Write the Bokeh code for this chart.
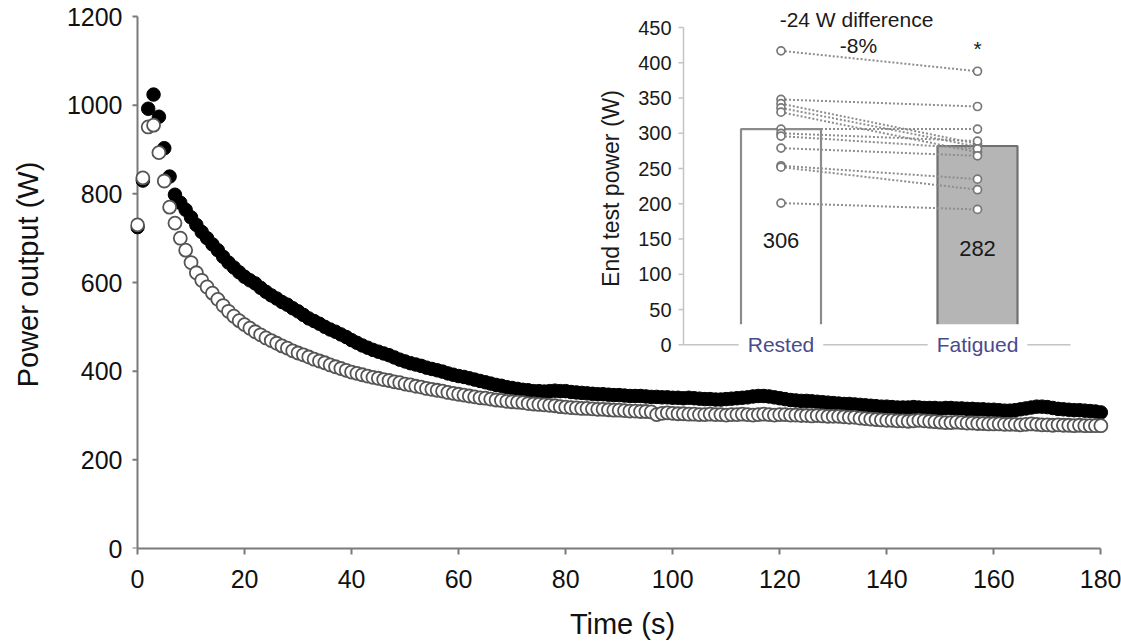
import math
from bokeh.plotting import figure
from bokeh.models import Range1d, FixedTicker, ColumnDataSource
from bokeh.core.properties import value
from bokeh.embed import file_html
from bokeh.resources import INLINE

# ---------------- data ----------------
times = list(range(181))

rested_power = [
    725, 830, 992, 1024, 974, 903, 839, 798, 780, 764,
    747, 730, 714, 700, 686, 673, 658, 645, 634, 623,
    613, 605, 598, 588, 579, 571, 564, 556, 550, 542,
    535, 527, 519, 513, 507, 500, 494, 489, 483, 477,
    470, 464, 458, 453, 448, 444, 440, 436, 431, 426,
    422, 418, 415, 412, 408, 405, 402, 399, 395, 392,
    389, 387, 384, 381, 378, 375, 372, 369, 367, 364,
    362, 360, 358, 357, 355, 355, 354, 355, 356, 355,
    355, 353, 352, 351, 350, 349, 348, 348, 347, 346,
    346, 345, 344, 344, 344, 343, 342, 342, 341, 341,
    340, 340, 339, 340, 339, 338, 337, 337, 336, 336,
    337, 338, 339, 340, 341, 343, 344, 344, 343, 341,
    339, 337, 335, 334, 333, 333, 332, 331, 330, 329,
    328, 327, 326, 326, 325, 324, 323, 322, 321, 320,
    320, 319, 318, 318, 318, 319, 318, 317, 317, 317,
    316, 317, 317, 316, 316, 315, 315, 314, 314, 313,
    313, 312, 311, 311, 312, 314, 316, 318, 320, 320,
    319, 317, 315, 314, 313, 312, 312, 311, 310, 309,
    307,
]

fatigued_power = [
    730, 836, 951, 955, 893, 829, 770, 734, 700, 673,
    645, 622, 605, 590, 576, 562, 548, 535, 524, 514,
    505, 497, 489, 482, 475, 469, 463, 457, 452, 446,
    441, 437, 432, 427, 423, 419, 414, 410, 406, 402,
    398, 395, 392, 389, 386, 384, 381, 379, 376, 374,
    371, 369, 366, 364, 361, 359, 357, 355, 352, 350,
    348, 346, 344, 342, 340, 339, 337, 335, 334, 332,
    331, 330, 329, 327, 326, 325, 324, 323, 322, 320,
    319, 318, 317, 316, 316, 315, 314, 314, 313, 312,
    312, 311, 310, 310, 309, 309, 308, 302, 305, 306,
    305, 304, 304, 303, 303, 302, 302, 303, 302, 302,
    301, 302, 302, 303, 302, 301, 302, 303, 302, 301,
    302, 302, 301, 301, 300, 300, 299, 300, 299, 298,
    298, 298, 297, 296, 296, 294, 293, 292, 291, 290,
    289, 289, 288, 288, 287, 288, 289, 288, 287, 286,
    285, 284, 284, 285, 284, 283, 283, 282, 282, 281,
    281, 281, 280, 280, 280, 279, 280, 281, 280, 279,
    279, 278, 279, 278, 278, 277, 278, 277, 277, 277,
    277,
]

main_xticks = [0, 20, 40, 60, 80, 100, 120, 140, 160, 180]
main_yticks = [0, 200, 400, 600, 800, 1000, 1200]

inset_categories = ["Rested", "Fatigued"]
inset_positions = [1, 2]
inset_means = [306, 282]
rested_end = [417, 348, 342, 336, 330, 306, 300, 296, 279, 254, 252, 201]
fatigued_end = [388, 338, 285, 281, 273, 306, 289, 278, 268, 235, 220, 192]
inset_yticks = [0, 50, 100, 150, 200, 250, 300, 350, 400, 450]
diff_text = "-24 W difference"
pct_text = "-8%"
sig_text = "*"

# ---------------- layout constants (canvas px) ----------------
FONT = "Liberation Sans"
W, H = 1121, 642
FL, FR, FT, FB = 130, 1114, 0, 548
X0PX, XS, YS = 137.0, 5.352, 0.4433        # main: px of t=0, px/s, px/W
x_start = -(X0PX - FL) / XS
x_end = (FR - X0PX) / XS
y_end = (FB - FT) / YS

IY0, IYS = 344.3, 0.705                     # inset: px of 0 W, px/W
IX1, IXS = 780.5, 196.5                     # inset: px of category 1, px/unit
iy_start = -(FB - IY0) / IYS
iy_end = (IY0 - FT) / IYS
ix_start = 1 - (IX1 - FL) / IXS
ix_end = 1 + (FR - IX1) / IXS


def ixu(px):
    return 1 + (px - IX1) / IXS


def iyu(py):
    return (IY0 - py) / IYS


p = figure(width=W, height=H, output_backend="svg", toolbar_location=None,
           x_range=Range1d(x_start, x_end), y_range=Range1d(0, y_end),
           min_border_left=FL, min_border_right=W - FR,
           min_border_top=FT, min_border_bottom=H - FB)
p.outline_line_color = None
p.grid.visible = False
p.background_fill_color = "white"
p.border_fill_color = "white"
p.extra_x_ranges = {"ix": Range1d(ix_start, ix_end)}
p.extra_y_ranges = {"iy": Range1d(iy_start, iy_end)}

AX_COL = "#7a7a7a"
for ax in (p.xaxis[0], p.yaxis[0]):
    ax.axis_line_color = AX_COL
    ax.axis_line_width = 2
    ax.major_tick_line_color = AX_COL
    ax.major_tick_line_width = 2
    ax.major_tick_out = 6
    ax.major_tick_in = 0
    ax.minor_tick_line_color = None
    ax.major_label_text_font = FONT
    ax.major_label_text_font_size = "25px"
    ax.major_label_text_color = "#111111"
    ax.axis_label_text_font = FONT
    ax.axis_label_text_font_size = "29px"
    ax.axis_label_text_font_style = "normal"
    ax.axis_label_text_color = "#111111"

xa = p.xaxis[0]
xa.ticker = FixedTicker(ticks=main_xticks)
xa.bounds = (main_xticks[0], main_xticks[-1])
xa.axis_label = "Time (s)"
xa.major_label_standoff = 15
xa.axis_label_standoff = 17

ya = p.yaxis[0]
ya.ticker = FixedTicker(ticks=main_yticks)
ya.axis_label = "Power output (W)"
ya.axis_line_color = None
ya.major_tick_line_color = None
ya.major_tick_out = 0
ya.major_label_standoff = 8
ya.axis_label_standoff = 20

# y axis rule and ticks at t = 0 (drawn so that the t=0 markers sit on it)
tick_w = 5 / XS
p.line(x=[main_xticks[0]] * 2, y=[main_yticks[0], main_yticks[-1]], line_color=AX_COL, line_width=2)
p.segment(x0=[main_xticks[0] - tick_w] * len(main_yticks), y0=main_yticks,
          x1=[main_xticks[0]] * len(main_yticks), y1=main_yticks, line_color=AX_COL, line_width=2)

src = ColumnDataSource(dict(t=times, rested=rested_power, fatigued=fatigued_power))
p.scatter("t", "rested", source=src, size=13.5, fill_color="black", line_color="black", line_width=1)
p.scatter("t", "fatigued", source=src, size=13, fill_color="white", line_color="#555555", line_width=1.8)

# ---------------- inset ----------------
IR = dict(x_range_name="ix", y_range_name="iy")
INSET_AX = "#c4c4c4"
ax_x = ixu(683)
ax_right = ixu(1070)
tick_len = 5 / IXS

# bars (fill, then open-bottom outline)
bar_w = 80 / IXS
bar_base = 25
p.vbar(x=inset_positions, top=inset_means, bottom=bar_base, width=bar_w,
       fill_color=["white", "#b5b5b5"], line_color=None, **IR)
xs_out = [[x - bar_w / 2, x - bar_w / 2, x + bar_w / 2, x + bar_w / 2] for x in inset_positions]
ys_out = [[bar_base, m, m, bar_base] for m in inset_means]
p.multi_line(xs=xs_out, ys=ys_out, line_color=["#8c8c8c", "#707070"], line_width=2.2, **IR)

# inset axes
p.line(x=[ax_x, ax_x], y=[inset_yticks[0], inset_yticks[-1]], line_color=INSET_AX, line_width=1.5, **IR)
p.line(x=[ax_x, ax_right], y=[0, 0], line_color=INSET_AX, line_width=1.5, **IR)
p.segment(x0=[ax_x - tick_len] * len(inset_yticks), y0=inset_yticks,
          x1=[ax_x] * len(inset_yticks), y1=inset_yticks, line_color=INSET_AX, line_width=1.5, **IR)
p.text(x=[ax_x] * len(inset_yticks), y=inset_yticks, text=[str(v) for v in inset_yticks],
       x_offset=-12, text_align="right", text_baseline="middle",
       text_font=value(FONT), text_font_size="20px", text_color="#1a1a1a", **IR)
p.text(x=[ixu(610)], y=[iyu(188)], text=["End test power (W)"],
       angle=math.pi / 2, text_align="center", text_baseline="middle",
       text_font=value(FONT), text_font_size="23px", text_color="#1a1a1a", **IR)
p.text(x=inset_positions, y=[0, 0], text=inset_categories,
       text_align="center", text_baseline="middle",
       text_font=value(FONT), text_font_size="21px", text_color="#4a4a8c",
       background_fill_color="white", padding=9, **IR)

# individual lines and points
pair_xs = [list(inset_positions) for _ in rested_end]
pair_ys = [[r, f] for r, f in zip(rested_end, fatigued_end)]
p.multi_line(xs=pair_xs, ys=pair_ys, line_color="#8e8e8e", line_width=2, line_dash="2 2", **IR)
p.scatter(x=[inset_positions[0]] * len(rested_end), y=rested_end, size=8,
          fill_color="white", line_color="#777777", line_width=1.7, **IR)
p.scatter(x=[inset_positions[1]] * len(fatigued_end), y=fatigued_end, size=8,
          fill_color="white", line_color="#777777", line_width=1.7, **IR)

# value labels and annotations
p.text(x=inset_positions, y=[iyu(240), iyu(248)], text=[str(m) for m in inset_means],
       text_align="center", text_baseline="middle",
       text_font=value(FONT), text_font_size="22px", text_color="#1a1a1a", **IR)
p.text(x=[ixu(856), ixu(858), inset_positions[1]],
       y=[iyu(19), iyu(45), iyu(48)],
       text=[diff_text, pct_text, sig_text], text_align="center", text_baseline="middle",
       text_font=value(FONT), text_font_size="21px", text_color="#1a1a1a", **IR)

open("out.html", "w").write(file_html(p, INLINE))
